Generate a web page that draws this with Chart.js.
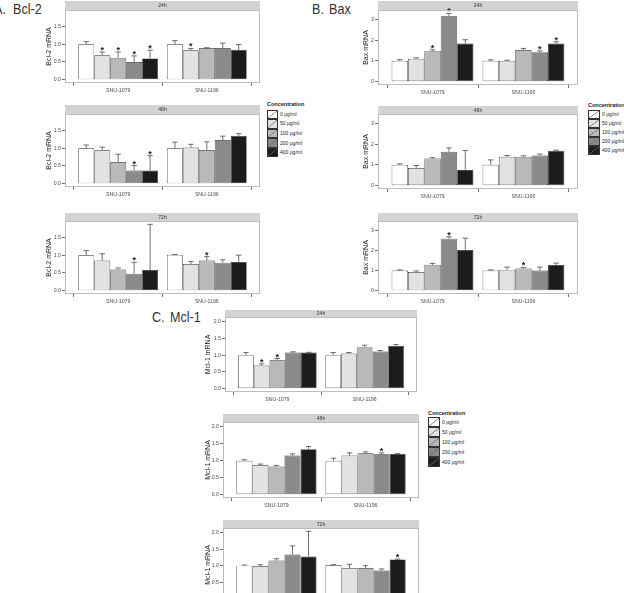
<!DOCTYPE html>
<html><head><meta charset="utf-8">
<script src="https://cdn.jsdelivr.net/npm/chart.js@4"></script>
<style>
body{margin:0;background:#fff;}
#wrap{position:relative;width:624px;height:593px;overflow:hidden;background:#fff;font-family:"Liberation Sans",Arial,sans-serif;}
.panel{position:absolute;}
.plabel{position:absolute;font-family:"Liberation Sans Narrow","Liberation Sans",sans-serif;font-size:15px;color:#333;white-space:pre;line-height:15px;transform:scaleX(0.84);transform-origin:0 0;}
.lg{position:absolute;white-space:nowrap;color:#222;line-height:1;}
.key{position:absolute;box-sizing:border-box;border:0.8px solid #333;}
</style>
</head><body>
<div id="wrap"></div>
<script>
// ---------- categories / labels ----------
const groups = ['SNU-1079', 'SNU-1196'];
const concentrations = ['0 μg/ml', '50 μg/ml', '100 μg/ml', '200 μg/ml', '400 μg/ml'];
const fills = ['#ffffff', '#e2e2e2', '#b9b9b9', '#8a8a8a', '#1c1c1c'];
const times = ['24h', '48h', '72h'];

// ---------- tick labels ----------
const bcl2Ticks = [0, 0.5, 1, 1.5];
const baxTicks = [0, 1, 2, 3];
const mcl1Ticks = [0, 0.5, 1, 1.5, 2];

// ---------- Bcl-2 (rows: SNU-1079, SNU-1196; columns: concentrations) ----------
const bcl2_24h_mean = [[1.00, 0.69, 0.62, 0.50, 0.60], [1.00, 0.83, 0.89, 0.89, 0.84]];
const bcl2_24h_err  = [[0.07, 0.09, 0.16, 0.17, 0.23], [0.10, 0.05, 0.01, 0.14, 0.15]];
const bcl2_24h_sig  = [[0, 1, 1, 1, 1], [0, 1, 0, 0, 0]];
const bcl2_48h_mean = [[1.00, 0.94, 0.61, 0.37, 0.37], [1.00, 1.02, 0.95, 1.23, 1.35]];
const bcl2_48h_err  = [[0.09, 0.09, 0.22, 0.14, 0.42], [0.17, 0.09, 0.23, 0.11, 0.06]];
const bcl2_48h_sig  = [[0, 0, 0, 1, 1], [0, 0, 0, 0, 0]];
const bcl2_72h_mean = [[1.00, 0.85, 0.60, 0.48, 0.58], [1.01, 0.75, 0.85, 0.79, 0.81]];
const bcl2_72h_err  = [[0.13, 0.19, 0.04, 0.32, 1.29], [0.01, 0.07, 0.11, 0.08, 0.19]];
const bcl2_72h_sig  = [[0, 0, 0, 1, 0], [0, 0, 1, 0, 0]];

// ---------- Bax ----------
const bax_24h_mean = [[1.00, 1.10, 1.48, 3.15, 1.84], [1.00, 1.00, 1.52, 1.42, 1.84]];
const bax_24h_err  = [[0.06, 0.05, 0.05, 0.14, 0.18], [0.05, 0.03, 0.08, 0.06, 0.08]];
const bax_24h_sig  = [[0, 0, 1, 1, 0], [0, 0, 0, 1, 1]];
const bax_48h_mean = [[1.00, 0.85, 1.31, 1.63, 0.77], [1.00, 1.39, 1.39, 1.45, 1.68]];
const bax_48h_err  = [[0.05, 0.12, 0.04, 0.19, 0.92], [0.24, 0.06, 0.05, 0.07, 0.03]];
const bax_48h_sig  = [[0, 0, 0, 0, 0], [0, 0, 0, 0, 0]];
const bax_72h_mean = [[1.00, 0.92, 1.28, 2.58, 2.02], [1.00, 1.03, 1.10, 1.00, 1.27]];
const bax_72h_err  = [[0.03, 0.06, 0.07, 0.09, 0.58], [0.03, 0.14, 0.05, 0.17, 0.10]];
const bax_72h_sig  = [[0, 0, 0, 1, 0], [0, 0, 1, 0, 0]];

// ---------- Mcl-1 ----------
const mcl1_24h_mean = [[1.00, 0.69, 0.85, 1.08, 1.08], [1.00, 1.05, 1.24, 1.11, 1.28]];
const mcl1_24h_err  = [[0.08, 0.05, 0.05, 0.02, 0.005], [0.08, 0.03, 0.06, 0.03, 0.04]];
const mcl1_24h_sig  = [[0, 1, 1, 0, 0], [0, 0, 0, 0, 0]];
const mcl1_48h_mean = [[1.00, 0.87, 0.83, 1.15, 1.34], [1.00, 1.15, 1.22, 1.19, 1.20]];
const mcl1_48h_err  = [[0.03, 0.03, 0.03, 0.05, 0.08], [0.07, 0.08, 0.04, 0.04, 0.01]];
const mcl1_48h_sig  = [[0, 0, 0, 0, 0], [0, 0, 0, 1, 0]];
const mcl1_72h_mean = [[1.00, 0.99, 1.16, 1.34, 1.28], [1.02, 0.92, 0.93, 0.85, 1.19]];
const mcl1_72h_err  = [[0.02, 0.04, 0.05, 0.26, 0.76], [0.01, 0.12, 0.07, 0.05, 0.01]];
const mcl1_72h_sig  = [[0, 0, 0, 0, 0], [0, 0, 0, 0, 1]];

// ---------- gene definitions ----------
const genes = [
  {title: 'Bcl-2 mRNA', ticks: bcl2Ticks, dec: 1,
   data: [[bcl2_24h_mean, bcl2_24h_err, bcl2_24h_sig], [bcl2_48h_mean, bcl2_48h_err, bcl2_48h_sig], [bcl2_72h_mean, bcl2_72h_err, bcl2_72h_sig]],
   layout: [{L:65,R:260,yw:20,st:1,top:10,bot:83},{L:65,R:260,yw:20,st:105,top:114,bot:187},{L:65,R:260,yw:20,st:213,top:221,bot:294}]},
  {title: 'Bax mRNA', ticks: baxTicks, dec: 0,
   data: [[bax_24h_mean, bax_24h_err, bax_24h_sig], [bax_48h_mean, bax_48h_err, bax_48h_sig], [bax_72h_mean, bax_72h_err, bax_72h_sig]],
   layout: [{L:378,R:578,yw:16,st:1,top:10,bot:85},{L:378,R:578,yw:16,st:106,top:114,bot:189},{L:378,R:578,yw:16,st:213,top:221,bot:294}]},
  {title: 'Mcl-1 mRNA', ticks: mcl1Ticks, dec: 1,
   data: [[mcl1_24h_mean, mcl1_24h_err, mcl1_24h_sig], [mcl1_48h_mean, mcl1_48h_err, mcl1_48h_sig], [mcl1_72h_mean, mcl1_72h_err, mcl1_72h_sig]],
   layout: [{L:225,R:417,yw:21,st:310,top:317,bot:392},{L:223,R:419,yw:19,st:414,top:422,bot:498},{L:223,R:419,yw:19,st:520,top:528,bot:602}]}
];

const XH = 12;
const wrap = document.getElementById('wrap');
Chart.defaults.font.family = '"Liberation Sans", Arial, sans-serif';

const panelPlugin = {
  id: 'panelDeco',
  beforeDraw(chart, args, opts) {
    const {ctx, chartArea: a} = chart;
    ctx.save();
    ctx.fillStyle = '#d3d3d3';
    ctx.fillRect(a.left, a.top - opts.h, a.right - a.left, opts.h);
    ctx.fillStyle = '#333';
    ctx.font = '5px "Liberation Sans", Arial, sans-serif';
    ctx.textAlign = 'center';
    ctx.textBaseline = 'middle';
    ctx.fillText(opts.text, (a.left + a.right) / 2, a.top - opts.h / 2 + 0.5);
    ctx.restore();
  },
  afterDatasetsDraw(chart) {
    const {ctx, chartArea: a} = chart;
    const y = chart.scales.y;
    ctx.save();
    chart.data.datasets.forEach((ds, di) => {
      const meta = chart.getDatasetMeta(di);
      meta.data.forEach((bar, j) => {
        const v = ds.data[j].y, e = ds.err[j];
        const yt = y.getPixelForValue(v + e);
        const hw = bar.width * 0.17;
        ctx.strokeStyle = '#333';
        ctx.lineWidth = 0.7;
        ctx.beginPath();
        ctx.moveTo(bar.x, bar.y);
        ctx.lineTo(bar.x, yt);
        ctx.moveTo(bar.x - hw, yt);
        ctx.lineTo(bar.x + hw, yt);
        ctx.stroke();
        if (ds.sig[j]) {
          ctx.fillStyle = '#222';
          ctx.font = 'bold 9px "Liberation Sans", Arial, sans-serif';
          ctx.textAlign = 'center';
          ctx.textBaseline = 'alphabetic';
          ctx.fillText('*', bar.x, yt + 1);
        }
      });
    });
    ctx.strokeStyle = '#bdbdbd';
    ctx.lineWidth = 1;
    ctx.strokeRect(a.left + 0.5, a.top + 0.5, a.right - a.left - 1, a.bottom - a.top - 1);
    ctx.restore();
  }
};

genes.forEach(g => {
  let hi = 0;
  g.data.forEach(([m, e]) => m.forEach((row, gi) => row.forEach((v, i) => { hi = Math.max(hi, v + e[gi][i]); })));
  const yMin = -0.05 * hi, yMax = hi * 1.05;
  g.data.forEach(([mean, err, sig], ti) => {
    const p = g.layout[ti];
    const div = document.createElement('div');
    div.className = 'panel';
    const W = p.R - p.L + p.yw + 2;
    const H = p.bot - p.st + XH;
    div.style.left = (p.L - p.yw) + 'px';
    div.style.top = p.st + 'px';
    div.style.width = W + 'px';
    div.style.height = H + 'px';
    const cv = document.createElement('canvas');
    div.appendChild(cv);
    wrap.appendChild(div);
    const datasets = concentrations.map((lab, i) => ({
      label: lab,
      data: groups.map((gr, gi) => ({x: gi + 1, y: mean[gi][i]})),
      err: groups.map((gr, gi) => err[gi][i]),
      sig: groups.map((gr, gi) => sig[gi][i]),
      backgroundColor: fills[i],
      borderColor: '#333',
      borderWidth: 0.7,
      borderSkipped: false,
      categoryPercentage: 0.9,
      barPercentage: 1
    }));
    const tickGrid = {display: true, drawOnChartArea: false, drawTicks: true, tickLength: 3, color: '#333', lineWidth: 0.7};
    new Chart(cv, {
      type: 'bar',
      data: {datasets},
      plugins: [panelPlugin],
      options: {
        responsive: true, maintainAspectRatio: false, animation: false, events: [],
        layout: {padding: {top: p.top - p.st, right: 2, left: 0, bottom: 0}},
        plugins: {legend: {display: false}, tooltip: {enabled: false}, panelDeco: {h: p.top - p.st, text: times[ti]}},
        scales: {
          x: {
            type: 'linear', min: 0.4, max: 2.6, offset: false,
            grid: tickGrid, border: {display: false},
            ticks: {font: {size: 5.2}, color: '#4d4d4d', padding: 1, maxRotation: 0, autoSkip: false,
                    callback: v => groups[v - 1] || ''},
            afterBuildTicks: s => { s.ticks = groups.map((gr, gi) => ({value: gi + 1})); },
            afterFit: s => { s.height = XH; }
          },
          y: {
            min: yMin, max: yMax,
            grid: tickGrid, border: {display: false},
            ticks: {font: {size: 5.2}, color: '#4d4d4d', padding: 1, callback: v => Number(v).toFixed(g.dec)},
            afterBuildTicks: s => { s.ticks = g.ticks.map(v => ({value: v})); },
            afterFit: s => { s.width = p.yw; },
            title: {display: true, text: g.title, font: {size: 7}, color: '#222', padding: 0}
          }
        }
      }
    });
  });
});

// ---------- panel labels ----------
[['A.', -6, 1], ['Bcl-2', 12.5, 1], ['B.', 312, 1], ['Bax', 329, 1], ['C.', 151.5, 309], ['Mcl-1', 169.5, 309]].forEach(([t, x, y]) => {
  const d = document.createElement('div');
  d.className = 'plabel';
  d.textContent = t;
  d.style.left = x + 'px';
  d.style.top = y + 'px';
  wrap.appendChild(d);
});

// ---------- legends ----------
const legends = [
  {x: 267, ty: 105, by: 109.5, bh: 9.6, bw: 11},
  {x: 588, ty: 106, by: 110, bh: 9.1, bw: 12},
  {x: 428, ty: 414, by: 417, bh: 10, bw: 12}
];
legends.forEach(L => {
  const t = document.createElement('div');
  t.className = 'lg';
  t.textContent = 'Concentration';
  t.style.fontSize = '5.5px';
  t.style.fontWeight = 'bold';
  t.style.left = L.x + 'px';
  t.style.top = (L.ty - 3) + 'px';
  wrap.appendChild(t);
  concentrations.forEach((c, i) => {
    const k = document.createElement('div');
    k.className = 'key';
    k.style.left = L.x + 'px';
    k.style.top = (L.by + i * L.bh) + 'px';
    k.style.width = L.bw + 'px';
    k.style.height = L.bh + 'px';
    k.style.background = 'linear-gradient(to bottom right, transparent 45%, #666 50%, transparent 55%), ' + fills[i];
    wrap.appendChild(k);
    const lb = document.createElement('div');
    lb.className = 'lg';
    lb.textContent = c;
    lb.style.fontSize = '5px';
    lb.style.left = (L.x + L.bw + 2) + 'px';
    lb.style.top = (L.by + i * L.bh + L.bh / 2 - 2.5) + 'px';
    wrap.appendChild(lb);
  });
});
</script>
</body></html>
